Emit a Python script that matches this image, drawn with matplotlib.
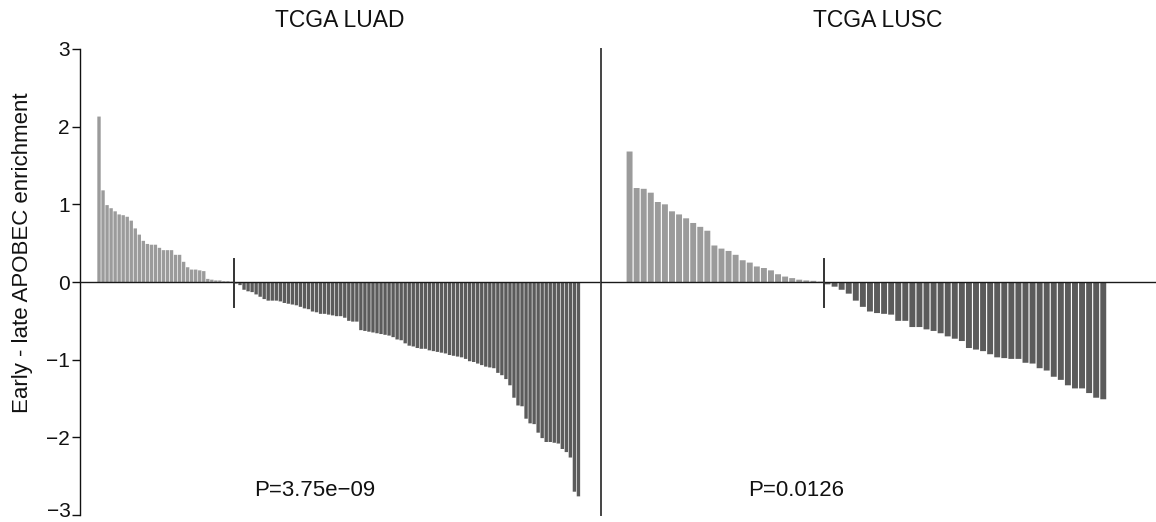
import matplotlib
matplotlib.use("Agg")
import matplotlib.pyplot as plt
import numpy as np

plt.rcParams['font.family'] = ['Liberation Sans', 'DejaVu Sans']

# ---- data ----
luad_pos = [2.13, 1.18, 0.99, 0.95, 0.91, 0.87, 0.86, 0.84, 0.79, 0.69, 0.61, 0.53,
            0.49, 0.48, 0.48, 0.44, 0.41, 0.41, 0.41, 0.35, 0.35, 0.26, 0.19, 0.16,
            0.16, 0.15, 0.14, 0.04, 0.03, 0.02, 0.02, 0.01, 0.01, 0.005]
luad_neg = [0.02, 0.04, 0.10, 0.12, 0.13, 0.16, 0.19, 0.22, 0.24, 0.24, 0.24, 0.25,
            0.27, 0.28, 0.29, 0.30, 0.32, 0.34, 0.35, 0.38, 0.39, 0.41, 0.41, 0.42,
            0.43, 0.44, 0.44, 0.46, 0.50, 0.51, 0.51, 0.62, 0.63, 0.64, 0.65, 0.66,
            0.67, 0.68, 0.69, 0.71, 0.74, 0.75, 0.79, 0.82, 0.83, 0.85, 0.86, 0.86,
            0.88, 0.89, 0.90, 0.91, 0.92, 0.94, 0.95, 0.96, 0.97, 0.99, 1.02, 1.03,
            1.05, 1.07, 1.09, 1.10, 1.11, 1.17, 1.20, 1.25, 1.33, 1.49, 1.59, 1.60,
            1.76, 1.82, 1.83, 1.94, 2.01, 2.06, 2.06, 2.07, 2.08, 2.15, 2.19, 2.26,
            2.70, 2.76]
lusc_pos = [1.68, 1.21, 1.20, 1.15, 1.03, 1.00, 0.91, 0.87, 0.82, 0.76, 0.71, 0.66,
            0.47, 0.43, 0.40, 0.35, 0.28, 0.25, 0.20, 0.18, 0.15, 0.10, 0.07, 0.05,
            0.03, 0.02, 0.015, 0.005]
lusc_neg = [0.03, 0.06, 0.10, 0.15, 0.24, 0.32, 0.38, 0.40, 0.41, 0.42, 0.50, 0.50,
            0.58, 0.58, 0.61, 0.63, 0.66, 0.70, 0.73, 0.76, 0.85, 0.87, 0.89, 0.93,
            0.97, 0.98, 0.99, 0.99, 1.04, 1.05, 1.11, 1.14, 1.22, 1.26, 1.33, 1.37,
            1.37, 1.43, 1.49, 1.51]

titles = ["TCGA LUAD", "TCGA LUSC"]
pvals = ["P=3.75e\u221209", "P=0.0126"]
yticks = [-3, -2, -1, 0, 1, 2, 3]
ylabel = "Early - late APOBEC enrichment"

POS_COL = '#9b9b9b'
NEG_COL = '#5b5b5b'

W, H = 1156, 522
fig = plt.figure(figsize=(W / 100, H / 100), dpi=100)

bot = (H - 515) / H
hgt = 466 / H
ax1 = fig.add_axes([80 / W, bot, 521 / W, hgt])
ax2 = fig.add_axes([601 / W, bot, 555 / W, hgt])


def draw(ax, pos, neg, xlim, ptxt, px):
    vals = list(pos) + [-v for v in neg]
    x = np.arange(len(vals))
    cols = [POS_COL] * len(pos) + [NEG_COL] * len(neg)
    bars = ax.bar(x, vals, width=0.84, color=cols, edgecolor='none')
    for b_ in bars:
        b_.set_snap(False)
    ax.axhline(0, color='#1a1a1a', lw=1.0, zorder=3)
    b = len(pos) - 0.5
    ax.plot([b, b], [-0.32, 0.30], color='#333333', lw=1.4, zorder=4)
    ax.set_xlim(*xlim)
    ax.set_ylim(-3, 3)
    ax.set_xticks([])
    for s in ['top', 'right', 'bottom']:
        ax.spines[s].set_visible(False)
    ax.text(px, 0.0536, ptxt, transform=ax.transAxes, ha='center', va='center',
            fontsize=16, color='#111111')


draw(ax1, luad_pos, luad_neg, (-4.72, 124.6), pvals[0], 0.45)
draw(ax2, lusc_pos, lusc_neg, (-4.04, 74.46), pvals[1], 0.352)

labels = [str(t).replace('-', '\u2212') for t in yticks]
ax1.set_yticks(yticks)
# the lowest label is drawn separately, nudged up so it stays inside the image
ax1.set_yticklabels([''] + labels[1:])
ax1.annotate(labels[0], xy=(0, yticks[0]), xycoords=('axes fraction', 'data'),
             xytext=(-9, 3.5), textcoords='offset pixels', ha='right', va='center',
             fontsize=15, color='#111111', annotation_clip=False)
ax1.tick_params(axis='y', length=6, width=1.0, pad=1.5, labelsize=15,
                colors='#111111')
ax1.spines['left'].set_color('#111111')
ax1.spines['left'].set_linewidth(1.0)

ax2.set_yticks([])
ax2.spines['left'].set_color('#444444')
ax2.spines['left'].set_linewidth(1.4)

fig.text(340 / W, 1 - 27 / H, titles[0], ha='center', va='baseline', fontsize=16.5,
         color='#111111')
fig.text(878 / W, 1 - 27 / H, titles[1], ha='center', va='baseline', fontsize=16.5,
         color='#111111')
fig.text(23 / W, 1 - 253 / H, ylabel, rotation=90, ha='center', va='center',
         fontsize=16, color='#111111')

fig.savefig('out.png', dpi=100)
